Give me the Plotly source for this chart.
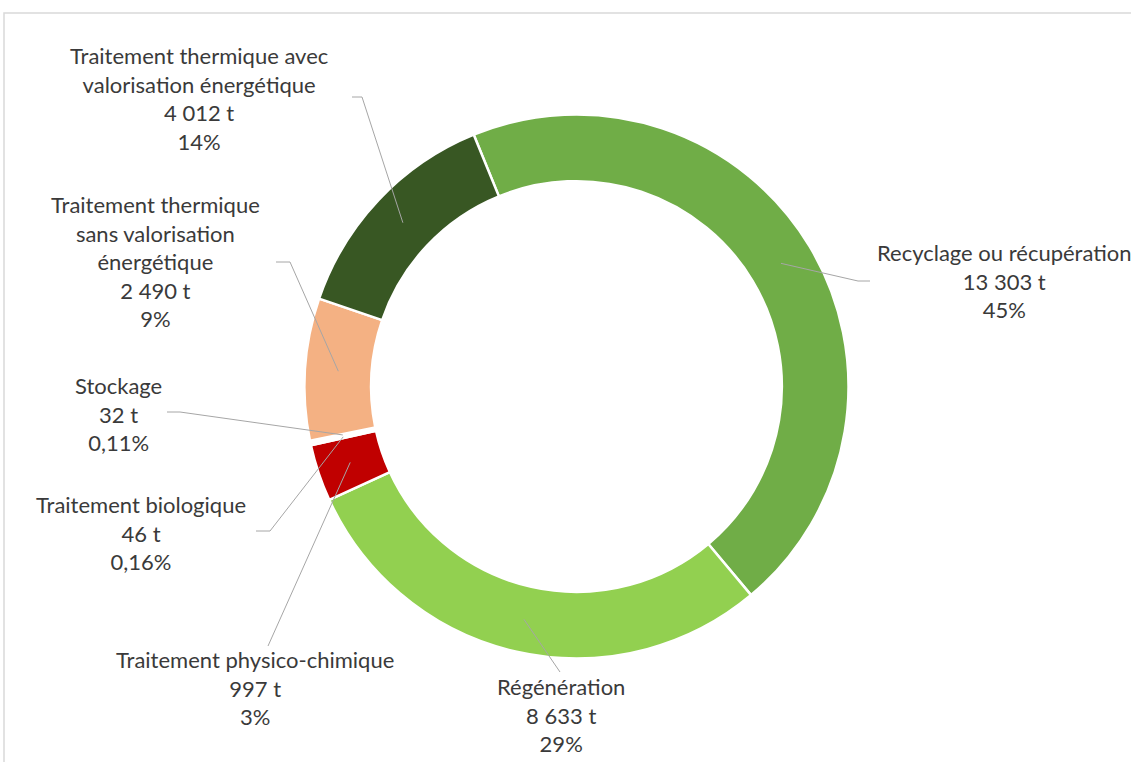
import math
import plotly.graph_objects as go

# ---- data ----
categories = [
    "Recyclage ou récupération",
    "Régénération",
    "Traitement physico-chimique",
    "Traitement biologique",
    "Stockage",
    "Traitement thermique<br>sans valorisation<br>énergétique",
    "Traitement thermique avec<br>valorisation énergétique",
]
tonnes = [13303, 8633, 997, 46, 32, 2490, 4012]
percent_labels = ["45%", "29%", "3%", "0,16%", "0,11%", "9%", "14%"]
colors = ["#70AD47", "#92D050", "#C00000", "#F7F7F7", "#F7F7F7", "#F4B183", "#385723"]

# ---- layout constants ----
W, H = 1131, 762
CX, CY = 576.5, 386.5      # pie centre (px)
R_OUT = 272.0
HOLE = 0.755
ROTATION = -22.2
FONT = "Lato, 'Open Sans', Arial, sans-serif"
TEXT_COLOR = "#3A3A3A"
LINE_COLOR = "#A6A6A6"

# label block centres (px) and leader-line label-side points (px)
label_pos = [(1004, 281), (561, 715), (255, 688), (141, 533), (118, 414), (155, 261), (199, 98)]
leader_ends = [
    [(858, 281), (870, 281)],
    [(560, 672)],
    [(268, 646)],
    [(270, 531), (256, 531)],
    [(180, 412), (167, 412)],
    [(290, 262), (276, 262)],
    [(362, 97), (352, 97)],
]


def px(x):
    return x / W


def py(y):
    return 1 - y / H


def fmt_t(v):
    s = f"{v:,}".replace(",", " ")
    return s + " t"


fig = go.Figure()
fig.add_trace(go.Pie(
    labels=[c.replace("<br>", " ") for c in categories],
    values=tonnes,
    sort=False,
    direction="clockwise",
    rotation=ROTATION,
    hole=HOLE,
    textinfo="none",
    marker=dict(colors=colors, line=dict(color="white", width=2.5)),
    domain=dict(x=[px(CX - R_OUT), px(CX + R_OUT)], y=[py(CY + R_OUT), py(CY - R_OUT)]),
    showlegend=False,
))

total = sum(tonnes)
r_mid = R_OUT * (1 + HOLE) / 2
shapes = []
annotations = []
cum = 0.0
for i, v in enumerate(tonnes):
    mid = ROTATION + (cum + v / 2) / total * 360
    cum += v
    a = math.radians(mid)
    sx = CX + r_mid * math.sin(a)
    sy = CY - r_mid * math.cos(a)
    pts = [(sx, sy)] + leader_ends[i]
    path = "M " + " L ".join(f"{px(x)},{py(y)}" for x, y in pts)
    shapes.append(dict(type="path", xref="paper", yref="paper", path=path,
                       line=dict(color=LINE_COLOR, width=1)))
    lx, ly = label_pos[i]
    annotations.append(dict(
        x=px(lx), y=py(ly), xref="paper", yref="paper",
        text=f"{categories[i]}<br>{fmt_t(v)}<br>{percent_labels[i]}",
        showarrow=False, xanchor="center", yanchor="middle", align="center",
        font=dict(family=FONT, size=22, color=TEXT_COLOR),
    ))

# chart frame
shapes.append(dict(type="rect", xref="paper", yref="paper",
                   x0=px(4), y0=-0.1, x1=1.1, y1=py(13),
                   line=dict(color="#D9D9D9", width=1.5), layer="below"))

fig.update_layout(
    width=W, height=H,
    margin=dict(l=0, r=0, t=0, b=0),
    paper_bgcolor="white", plot_bgcolor="white",
    shapes=shapes, annotations=annotations,
)

fig.write_html(
    "out.html",
    config={"displayModeBar": False},
    post_script="document.body.style.margin='0';document.body.style.overflow='hidden';",
)
